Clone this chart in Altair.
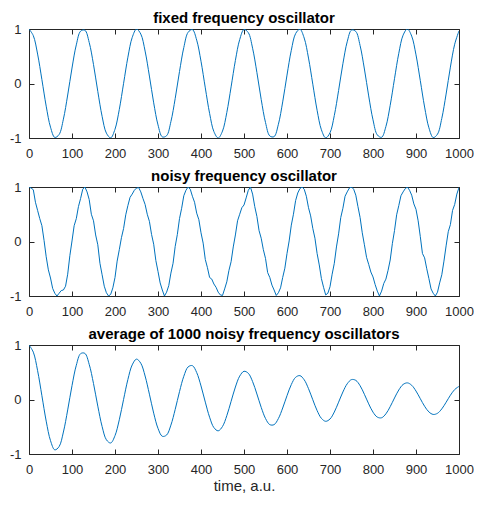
import altair as alt
import pandas as pd

# sample times
t_coarse = list(range(0, 1001, 10))
t_fine = list(range(0, 1001, 5))

# fixed frequency oscillator (read every 10 time units)
fixed = [
    1.000, 0.878, 0.540, 0.071, -0.416, -0.801, -0.990, -0.936, -0.654, -0.211,
    0.284, 0.709, 0.960, 0.977, 0.754, 0.347, -0.146, -0.602, -0.911, -0.997,
    -0.839, -0.476, 0.004, 0.483, 0.844, 0.998, 0.907, 0.595, 0.137, -0.355,
    -0.760, -0.979, -0.958, -0.700, -0.275, 0.220, 0.660, 0.939, 0.989, 0.796,
    0.408, -0.080, -0.548, -0.883, -1.000, -0.873, -0.533, -0.062, 0.424, 0.806,
    0.991, 0.933, 0.647, 0.202, -0.292, -0.715, -0.962, -0.975, -0.748, -0.338,
    0.154, 0.609, 0.915, 0.996, 0.834, 0.467, -0.013, -0.491, -0.849, -0.998,
    -0.904, -0.588, -0.128, 0.363, 0.765, 0.980, 0.955, 0.696, 0.266, -0.228,
    -0.667, -0.943, -0.987, -0.790, -0.400, 0.088, 0.555, 0.887, 1.000, 0.869,
    0.525, 0.053, -0.432, -0.812, -0.992, -0.929, -0.640, -0.194, 0.301, 0.721,
    0.965,
]

# noisy frequency oscillator (read every 5 time units)
noisy = [
    1.00, 0.98, 0.95, 0.72, 0.57, 0.42, 0.29, 0.02, -0.28, -0.52,
    -0.67, -0.86, -0.95, -1.00, -0.95, -0.90, -0.89, -0.82, -0.60, -0.26,
    0.01, 0.29, 0.42, 0.64, 0.79, 0.96, 1.00, 0.91, 0.77, 0.50,
    0.38, 0.12, -0.06, -0.40, -0.61, -0.82, -0.94, -1.00, -0.97, -0.85,
    -0.66, -0.36, -0.15, 0.07, 0.24, 0.49, 0.66, 0.81, 0.87, 0.94,
    0.98, 0.99, 0.91, 0.79, 0.68, 0.50, 0.37, 0.13, -0.05, -0.35,
    -0.55, -0.76, -0.89, -1.00, -0.93, -0.81, -0.58, -0.40, -0.09, 0.13,
    0.42, 0.61, 0.84, 0.94, 1.00, 0.96, 0.83, 0.72, 0.52, 0.40,
    0.16, -0.03, -0.33, -0.48, -0.66, -0.69, -0.78, -0.84, -0.93, -0.98,
    -0.99, -0.87, -0.74, -0.53, -0.37, -0.10, 0.12, 0.38, 0.50, 0.62,
    0.67, 0.80, 0.94, 1.00, 0.87, 0.64, 0.46, 0.20, 0.06, -0.15,
    -0.31, -0.57, -0.66, -0.80, -0.89, -0.99, -0.94, -0.85, -0.66, -0.49,
    -0.22, 0.01, 0.30, 0.50, 0.75, 0.89, 0.97, 1.00, 0.96, 0.83,
    0.62, 0.47, 0.24, 0.06, -0.22, -0.43, -0.68, -0.84, -0.98, -0.95,
    -0.83, -0.60, -0.40, -0.10, 0.14, 0.44, 0.61, 0.83, 0.91, 0.98,
    1.00, 0.96, 0.85, 0.64, 0.44, 0.16, -0.06, -0.29, -0.42, -0.56,
    -0.65, -0.79, -0.91, -1.00, -0.91, -0.77, -0.69, -0.53, -0.34, -0.04,
    0.20, 0.49, 0.66, 0.84, 0.91, 0.97, 1.00, 0.94, 0.85, 0.69,
    0.59, 0.38, 0.09, -0.22, -0.30, -0.50, -0.68, -0.87, -0.95, -1.00,
    -0.93, -0.76, -0.61, -0.36, -0.08, 0.18, 0.31, 0.57, 0.68, 0.87,
    0.99,
]

# average of 1000 noisy oscillators (read every 10 time units)
average = [
    1.000, 0.869, 0.529, 0.069, -0.397, -0.755, -0.924, -0.864, -0.597, -0.191,
    0.254, 0.628, 0.841, 0.846, 0.645, 0.293, -0.122, -0.495, -0.739, -0.798,
    -0.663, -0.372, 0.003, 0.368, 0.635, 0.741, 0.665, 0.431, 0.098, -0.251,
    -0.530, -0.675, -0.652, -0.470, -0.182, 0.144, 0.426, 0.598, 0.621, 0.494,
    0.249, -0.048, -0.325, -0.516, -0.575, -0.495, -0.297, -0.034, 0.229, 0.429,
    0.518, 0.481, 0.329, 0.101, -0.144, -0.348, -0.461, -0.461, -0.349, -0.156,
    0.070, 0.274, 0.407, 0.438, 0.362, 0.199, -0.005, -0.203, -0.346, -0.400,
    -0.358, -0.230, -0.049, 0.138, 0.288, 0.365, 0.351, 0.253, 0.095, -0.080,
    -0.232, -0.323, -0.335, -0.263, -0.131, 0.028, 0.175, 0.276, 0.305, 0.261,
    0.155, 0.015, -0.124, -0.228, -0.274, -0.253, -0.172, -0.051, 0.078, 0.183,
    0.241,
]

titles = [
    "fixed frequency oscillator",
    "noisy frequency oscillator",
    "average of 1000 noisy frequency oscillators",
]
x_ticks = [0, 100, 200, 300, 400, 500, 600, 700, 800, 900, 1000]
y_ticks = [-1, 0, 1]
x_title = "time, a.u."

BLUE = "#0072BD"
AX = "#262626"
FONT = "Liberation Sans"
TICK = 5


def panel(times, values, title, interp, with_xtitle):
    df = pd.DataFrame({"t": times, "v": values})
    xs = alt.Scale(domain=[0, 1000], nice=False, zero=False)
    ys = alt.Scale(domain=[-1, 1], nice=False, zero=False)

    bottom_kw = dict(
        orient="bottom", values=x_ticks, offset=-TICK, tickSize=TICK,
        domain=False, grid=False, labelPadding=9, labelFlush=False,
        labelOverlap=False, labelExpr="'' + datum.value",
    )
    if with_xtitle:
        bottom_kw.update(title=x_title, titleFontSize=15, titleFont=FONT,
                         titleFontWeight="normal", titleColor=AX, titlePadding=2)
    else:
        bottom_kw.update(title=None)
    bottom_axis = alt.Axis(**bottom_kw)
    left_axis = alt.Axis(
        orient="left", values=y_ticks, offset=-TICK, tickSize=TICK,
        domain=False, grid=False, labelPadding=8, title=None,
        labelExpr="'' + datum.value",
    )
    top_axis = alt.Axis(
        orient="top", values=x_ticks, offset=-TICK, tickSize=TICK,
        domain=False, grid=False, labels=False, title=None,
    )
    right_axis = alt.Axis(
        orient="right", values=y_ticks, offset=-TICK, tickSize=TICK,
        domain=False, grid=False, labels=False, title=None,
    )

    line = alt.Chart(df).mark_line(
        color=BLUE, strokeWidth=1, interpolate=interp, clip=True
    ).encode(
        x=alt.X("t:Q", scale=xs, axis=bottom_axis),
        y=alt.Y("v:Q", scale=ys, axis=left_axis),
    )
    frame = alt.Chart(df).mark_line(opacity=0).encode(
        x=alt.X("t:Q", scale=xs, axis=top_axis),
        y=alt.Y("v:Q", scale=ys, axis=right_axis),
    )
    return alt.layer(line, frame).resolve_axis(
        x="independent", y="independent"
    ).properties(
        width=430,
        height=109,
        title=alt.TitleParams(
            text=title, fontSize=15, fontWeight="bold", font=FONT,
            color="black", anchor="middle", offset=-3,
        ),
    )


chart = alt.vconcat(
    panel(t_coarse, fixed, titles[0], "catmull-rom", False),
    panel(t_fine, noisy, titles[1], "linear", False),
    panel(t_coarse, average, titles[2], "catmull-rom", True),
    spacing=7,
).properties(
    padding={"left": 0, "top": 2, "right": 0, "bottom": 0},
    background="white",
).configure_view(
    stroke=AX, strokeWidth=1
).configure_axis(
    labelFont=FONT, labelFontSize=13, labelColor=AX, tickColor=AX,
    tickWidth=1,
)

chart.save("out.html", embed_options={"renderer": "svg", "actions": False})
